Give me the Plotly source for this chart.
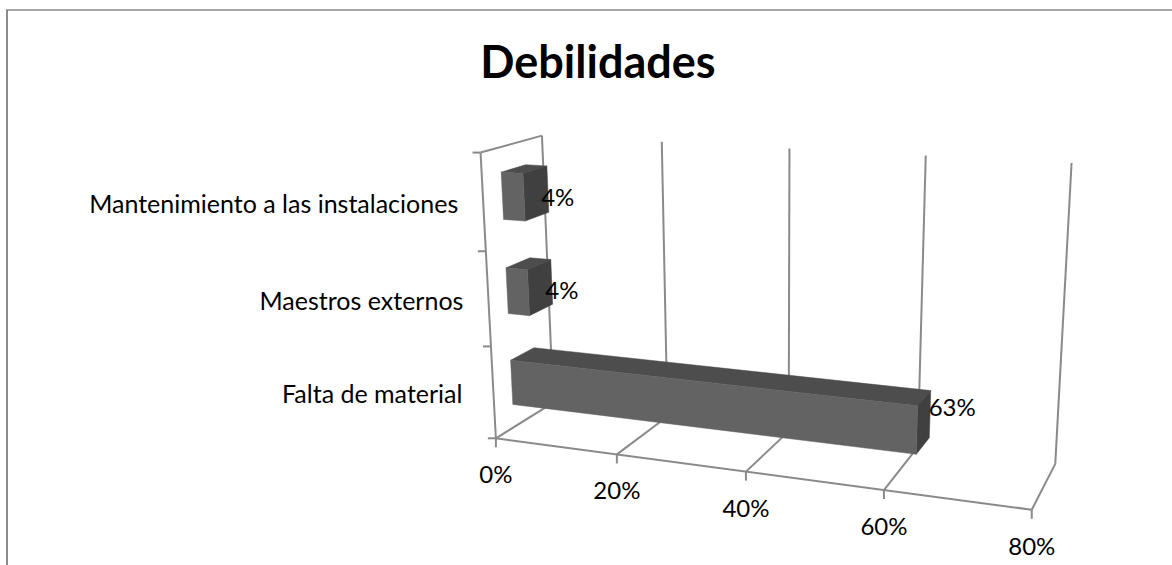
import numpy as np
import plotly.graph_objects as go

# ---- data ----
categories = ["Falta de material", "Maestros externos", "Mantenimiento a las instalaciones"]
values = [63, 3.6, 3.6]
value_ticks = [0, 20, 40, 60, 80]
AXIS_MAX = 80
TITLE = "Debilidades"

# ---- style ----
FONT = "Lato, Carlito, Calibri, sans-serif"
LINE = "#8a8a8a"
FRONT, TOP, SIDE = "#636363", "#4d4d4d", "#404040"
GAP_DEPTH = 0.3   # gap on each side of a bar, share of the depth
GAP_HEIGHT = 0.255  # gap on each side of a bar, share of a category's height
CAT_DX = [-31, -25, -25]  # label offsets from the axis, per category
VAL_DY = [-12, 6, 7]      # label offsets from the bar end, per category

# ---- 3D box -> screen: perspective fitted to the plot box of the picture ----
# (value, depth 0-1, height 0-1) -> pixel
_box = [
    ((0, 0, 0), (496, 438)), ((20, 0, 0), (617, 455)), ((60, 0, 0), (884, 490)),
    ((80, 0, 0), (1032, 509)), ((80, 1, 0), (1055, 465)), ((0, 1, 0), (553, 402)),
    ((0, 0, 1), (480, 153)), ((0, 1, 1), (542, 136)), ((20, 1, 1), (662, 142)),
    ((40, 1, 1), (790, 148)), ((60, 1, 1), (926, 155)), ((80, 1, 1), (1071, 163)),
]
_A, _b = [], []
for (X, Y, Z), (u, v) in _box:
    _A.append([X, Y, Z, 1, 0, 0, 0, 0, -u * X, -u * Y, -u * Z])
    _b.append(u)
    _A.append([0, 0, 0, 0, X, Y, Z, 1, -v * X, -v * Y, -v * Z])
    _b.append(v)
_p = np.linalg.lstsq(np.array(_A, float), np.array(_b, float), rcond=None)[0]
P = np.append(_p, 1.0).reshape(3, 4)


def proj(val, depth, height):
    q = P @ np.array([val, depth, height, 1.0])
    return q[0] / q[2], q[1] / q[2]


def segs(pairs):
    xs, ys = [], []
    for a, b in pairs:
        for pt in (a, b):
            x, y = proj(*pt)
            xs.append(x)
            ys.append(y)
        xs.append(None)
        ys.append(None)
    return xs, ys


fig = go.Figure()

# ---- walls, floor, gridlines, ticks ----
pairs = []
for t in value_ticks:
    pairs.append(((t, 0, 0), (t, 1, 0)))  # floor
    pairs.append(((t, 1, 0), (t, 1, 1)))  # back wall
pairs.append(((0, 0, 0), (AXIS_MAX, 0, 0)))  # front floor edge
pairs.append(((0, 0, 0), (0, 0, 1)))  # left wall front edge
pairs.append(((0, 0, 1), (0, 1, 1)))  # left wall top edge
xs, ys = segs(pairs)
for t in value_ticks:  # ticks below the front edge
    x, y = proj(t, 0, 0)
    xs += [x, x, None]
    ys += [y, y + 9, None]
n = len(categories)
for i in range(n + 1):  # ticks left of the left wall
    x, y = proj(0, 0, i / n)
    xs += [x, x - 8, None]
    ys += [y, y, None]
fig.add_trace(go.Scatter(x=xs, y=ys, mode="lines", line=dict(color=LINE, width=2),
                         hoverinfo="skip", connectgaps=False))


# ---- bars ----
def face(corners, color):
    pts = [proj(*c) for c in corners] + [proj(*corners[0])]
    fig.add_trace(go.Scatter(x=[p[0] for p in pts], y=[p[1] for p in pts], mode="lines",
                             fill="toself", fillcolor=color, line=dict(color=color, width=0.5),
                             hoverinfo="skip"))


for i in reversed(range(n)):
    v = values[i]
    d0, d1 = GAP_DEPTH, 1 - GAP_DEPTH
    h0, h1 = (i + GAP_HEIGHT) / n, (i + 1 - GAP_HEIGHT) / n
    face([(0, d0, h1), (v, d0, h1), (v, d1, h1), (0, d1, h1)], TOP)
    face([(v, d0, h0), (v, d1, h0), (v, d1, h1), (v, d0, h1)], SIDE)
    face([(0, d0, h0), (v, d0, h0), (v, d0, h1), (0, d0, h1)], FRONT)

# ---- text ----
tx, ty, tt = [], [], []
for t in value_ticks:
    x, y = proj(t, 0, 0)
    tx.append(x)
    ty.append(y + 39)
    tt.append(f"{t}%")
fig.add_trace(go.Scatter(x=tx, y=ty, text=tt, mode="text", textposition="middle center",
                         textfont=dict(family=FONT, size=24, color="#000"), hoverinfo="skip"))

cx, cy = [], []
for i in range(n):
    x, y = proj(0, 0, (i + 0.5) / n)
    cx.append(x + CAT_DX[i])
    cy.append(y + 4)
fig.add_trace(go.Scatter(x=cx, y=cy, text=categories, mode="text", textposition="middle left",
                         textfont=dict(family=FONT, size=25, color="#000"), hoverinfo="skip"))

vx, vy, vt = [], [], []
for i in range(n):
    x, y = proj(values[i], 0.5, (i + 0.5) / n)
    vx.append(x + 5)
    vy.append(y + VAL_DY[i])
    vt.append(f"{values[i]:.0f}%")
fig.add_trace(go.Scatter(x=vx, y=vy, text=vt, mode="text", textposition="middle right",
                         textfont=dict(family=FONT, size=24, color="#000"), hoverinfo="skip"))

fig.update_layout(
    width=1172, height=565, margin=dict(l=0, r=0, t=0, b=0),
    paper_bgcolor="white", plot_bgcolor="white", showlegend=False,
    xaxis=dict(range=[0, 1172], visible=False, fixedrange=True),
    yaxis=dict(range=[565, 0], visible=False, fixedrange=True),
    title=dict(text=f"<b>{TITLE}</b>", x=598 / 1172, y=1 - 62 / 565, xanchor="center", yanchor="middle",
               font=dict(family=FONT, size=45, color="#000")),
    shapes=[
        dict(type="line", x0=6, x1=1172, y0=10, y1=10, line=dict(color=LINE, width=1.5)),
        dict(type="line", x0=7, x1=7, y0=10, y1=565, line=dict(color=LINE, width=2)),
    ],
)

fig.write_html("out.html", config={"displayModeBar": False},
               post_script="document.body.style.margin='0';document.body.style.overflow='hidden';")
